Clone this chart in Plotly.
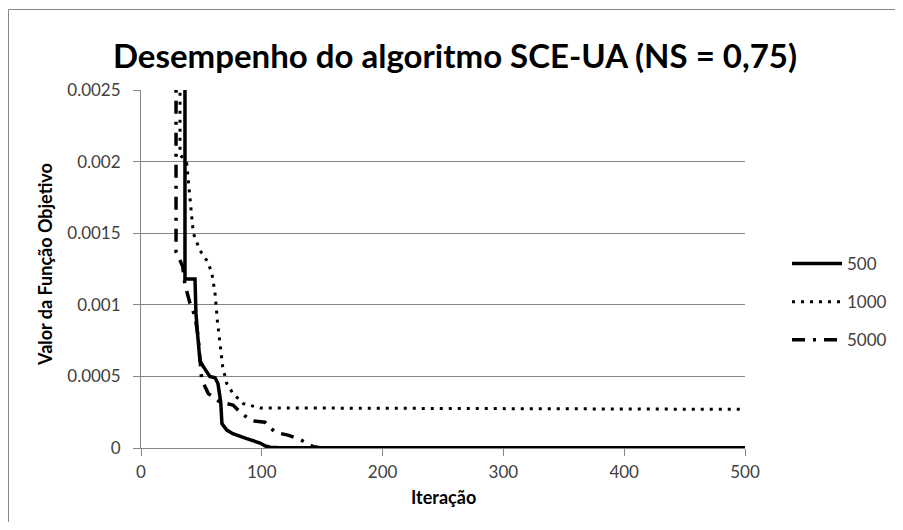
import plotly.graph_objects as go

# ---- data ----
iter_500 = [36.4, 36.4, 44.7, 45.5, 47.0, 48.8, 51.5, 54.0, 57.0, 61.3, 63.7, 66.0, 67.0,
            71.0, 76.0, 87.5, 98.5, 103.0, 107.0, 115.0, 500.0]
val_500 = [0.0060, 0.00118, 0.00118, 0.00094, 0.00078, 0.00061, 0.00057, 0.00054, 0.00050,
           0.00049, 0.00045, 0.00032, 0.00017, 0.000125, 0.00010, 0.000065, 0.000035,
           0.000014, 0.000005, 0.000002, 0.000002]

iter_1000 = [32.3, 32.3, 37.8, 40.6, 43.3, 48.8, 54.4, 58.5, 61.3, 63.2, 65.4, 67.6, 71.0,
             76.2, 84.7, 98.5, 500.0]
val_1000 = [0.0060, 0.00205, 0.00199, 0.00175, 0.00150, 0.00138, 0.00131, 0.00123, 0.00108,
            0.00089, 0.00071, 0.00057, 0.00045, 0.00038, 0.00031, 0.00028, 0.00027]

iter_5000 = [29.0, 29.0, 34.5, 36.4, 40.6, 44.7, 47.4, 50.2, 55.7, 65.4, 76.2, 83.4, 91.6,
             102.6, 111.0, 121.7, 131.6, 142.4, 148.0, 500.0]
val_5000 = [0.0060, 0.00137, 0.00127, 0.00114, 0.00101, 0.00092, 0.00077, 0.00048, 0.00038,
            0.00032, 0.00030, 0.00024, 0.00019, 0.00018, 0.00011, 0.00009, 0.00006, 0.00001,
            0.000002, 0.000002]

series_names = ["500", "1000", "5000"]

x_ticks = [0, 100, 200, 300, 400, 500]
y_ticks = [0, 0.0005, 0.001, 0.0015, 0.002, 0.0025]
y_ticktext = ["0", "0.0005", "0.001", "0.0015", "0.002", "0.0025"]

title_text = "Desempenho do algoritmo SCE-UA (NS = 0,75)"
x_title = "Iteração"
y_title = "Valor da Função Objetivo"

FONT = "Lato"
GRID = "#868686"
TXT = "#404040"

OFF = 8                     # page body margin
W, H = 903 - 2 * OFF, 530 - 2 * OFF
L, T, R, B = 141 - OFF, 90 - OFF, 745 - OFF, 448 - OFF   # plot area in figure pixels


def px(sx):
    return (sx - OFF - L) / (R - L)


def py(sy):
    return (B - (sy - OFF)) / (B - T)


fig = go.Figure()
fig.add_trace(go.Scatter(x=iter_500, y=val_500, mode="lines", name=series_names[0],
                         legendgroup="a",
                         line=dict(color="black", width=3.5, dash="solid")))
fig.add_trace(go.Scatter(x=iter_1000, y=val_1000, mode="lines", name=series_names[1],
                         legendgroup="b",
                         line=dict(color="black", width=3, dash="3px,6px")))
fig.add_trace(go.Scatter(x=iter_5000, y=val_5000, mode="lines", name=series_names[2],
                         legendgroup="c",
                         line=dict(color="black", width=3.5, dash="13px,8px,3px,8px")))

fig.update_layout(
    width=W, height=H,
    margin=dict(l=L, r=W - R, t=T, b=H - B, pad=0),
    paper_bgcolor="white", plot_bgcolor="white",
    font=dict(family=FONT, color=TXT, size=17),
    title=dict(text="<b>" + title_text + "</b>", x=(455 - OFF) / W, xanchor="center",
               y=1 - (56 - OFF) / H, yanchor="middle", xref="container", yref="container",
               font=dict(family=FONT, size=33, color="black")),
    showlegend=True,
    legend=dict(xref="container", yref="container",
                x=(787 - OFF) / W, xanchor="left", y=1 - (302 - OFF) / H, yanchor="middle",
                font=dict(family=FONT, size=17, color=TXT),
                traceorder="grouped", tracegroupgap=13, itemwidth=50,
                bgcolor="rgba(0,0,0,0)"),
    xaxis=dict(range=[0, 500], tickvals=x_ticks, showgrid=False, zeroline=False,
               showline=True, linecolor=GRID, linewidth=1,
               ticks="outside", ticklen=7, tickcolor=GRID, ticklabelstandoff=2,
               tickfont=dict(family=FONT, size=17, color=TXT)),
    yaxis=dict(range=[0, 0.0025], tickvals=y_ticks, ticktext=y_ticktext,
               showgrid=True, gridcolor=GRID, gridwidth=1, zeroline=False,
               showline=True, linecolor=GRID, linewidth=1,
               ticks="outside", ticklen=7, tickcolor=GRID, ticklabelstandoff=9,
               tickfont=dict(family=FONT, size=17, color=TXT)),
    annotations=[
        dict(text="<b>" + x_title + "</b>", xref="paper", yref="paper",
             x=px(443), y=py(497), xanchor="center", yanchor="middle",
             showarrow=False, font=dict(family=FONT, size=18, color="black")),
        dict(text="<b>" + y_title + "</b>", xref="paper", yref="paper", textangle=-90,
             x=px(45), y=py(265), xanchor="center", yanchor="middle",
             showarrow=False, font=dict(family=FONT, size=18, color="black")),
    ],
    shapes=[
        dict(type="line", xref="paper", yref="paper",
             x0=px(8.5), x1=px(8.5), y0=py(9.5), y1=py(600),
             line=dict(color=GRID, width=1), layer="below"),
        dict(type="line", xref="paper", yref="paper",
             x0=px(8.5), x1=px(1000), y0=py(9.5), y1=py(9.5),
             line=dict(color=GRID, width=1), layer="below"),
    ],
)

fig.write_html("out.html")
